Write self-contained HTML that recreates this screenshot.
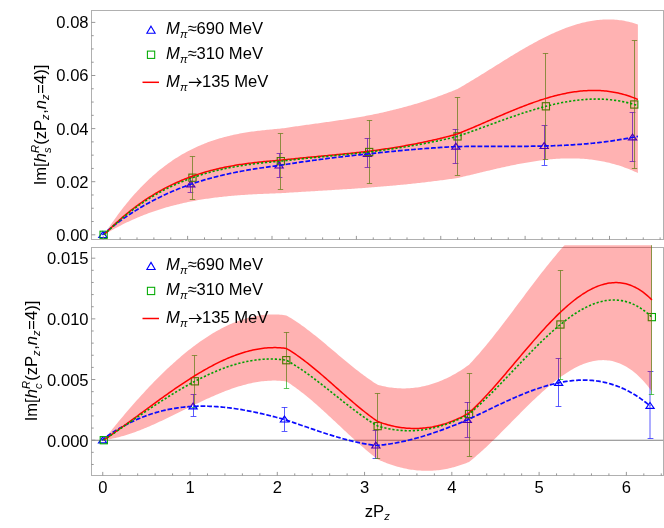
<!DOCTYPE html><html><head><meta charset="utf-8"><style>html,body{margin:0;padding:0;background:#fff}svg{display:block;will-change:transform}</style></head><body><svg width="664" height="528" viewBox="0 0 664 528"><style>.t{font-family:"Liberation Sans",sans-serif;font-size:16.6px;fill:#000}</style><rect width="664" height="528" fill="#fff"/><clipPath id="c1"><rect x="91.50" y="10.50" width="572.00" height="229.00"/></clipPath><clipPath id="c2"><rect x="91.50" y="245.30" width="572.00" height="230.20"/></clipPath><g clip-path="url(#c1)"><path d="M190.50,177.20V192.10M187.60,177.50h5.8M187.60,192.50h5.8" stroke="#3030ff" stroke-width="0.8" fill="none"/><path d="M279.50,153.40V177.40M276.60,153.50h5.8M276.60,177.50h5.8" stroke="#3030ff" stroke-width="0.8" fill="none"/><path d="M367.50,138.30V167.30M364.60,138.50h5.8M364.60,167.50h5.8" stroke="#3030ff" stroke-width="0.8" fill="none"/><path d="M455.50,129.20V163.40M452.60,129.50h5.8M452.60,163.50h5.8" stroke="#3030ff" stroke-width="0.8" fill="none"/><path d="M544.50,125.30V165.00M541.60,125.50h5.8M541.60,165.50h5.8" stroke="#3030ff" stroke-width="0.8" fill="none"/><path d="M632.50,112.30V161.50M629.60,112.50h5.8M629.60,161.50h5.8" stroke="#3030ff" stroke-width="0.8" fill="none"/><path d="M192.50,156.50V199.40M189.80,156.50h5.4M189.80,199.50h5.4" stroke="#28b428" stroke-width="0.75" fill="none"/><path d="M280.50,133.60V189.40M277.80,133.50h5.4M277.80,189.50h5.4" stroke="#28b428" stroke-width="0.75" fill="none"/><path d="M369.50,120.30V183.40M366.80,120.50h5.4M366.80,183.50h5.4" stroke="#28b428" stroke-width="0.75" fill="none"/><path d="M457.50,97.30V175.30M454.80,97.50h5.4M454.80,175.50h5.4" stroke="#28b428" stroke-width="0.75" fill="none"/><path d="M545.50,53.40V159.30M542.80,53.50h5.4M542.80,159.50h5.4" stroke="#28b428" stroke-width="0.75" fill="none"/><path d="M634.50,40.50V168.40M631.80,40.50h5.4M631.80,168.50h5.4" stroke="#28b428" stroke-width="0.75" fill="none"/><path d="M102.90,231.60L107.00,237.50L98.80,237.50Z" stroke="#0000ff" stroke-width="1.15" fill="none"/><path d="M190.76,180.90L194.86,186.80L186.66,186.80Z" stroke="#0000ff" stroke-width="1.15" fill="none"/><path d="M279.12,162.10L283.22,168.00L275.02,168.00Z" stroke="#0000ff" stroke-width="1.15" fill="none"/><path d="M367.48,150.60L371.58,156.50L363.38,156.50Z" stroke="#0000ff" stroke-width="1.15" fill="none"/><path d="M455.84,143.20L459.94,149.10L451.74,149.10Z" stroke="#0000ff" stroke-width="1.15" fill="none"/><path d="M544.20,142.60L548.30,148.50L540.10,148.50Z" stroke="#0000ff" stroke-width="1.15" fill="none"/><path d="M632.56,134.00L636.66,139.90L628.46,139.90Z" stroke="#0000ff" stroke-width="1.15" fill="none"/><rect x="100.00" y="231.20" width="7.20" height="7.20" stroke="#00aa00" stroke-width="1.10" fill="none"/><rect x="188.86" y="174.10" width="7.20" height="7.20" stroke="#00aa00" stroke-width="1.10" fill="none"/><rect x="277.22" y="157.55" width="7.20" height="7.20" stroke="#00aa00" stroke-width="1.10" fill="none"/><rect x="365.58" y="148.40" width="7.20" height="7.20" stroke="#00aa00" stroke-width="1.10" fill="none"/><rect x="453.94" y="132.80" width="7.20" height="7.20" stroke="#00aa00" stroke-width="1.10" fill="none"/><rect x="542.30" y="102.70" width="7.20" height="7.20" stroke="#00aa00" stroke-width="1.10" fill="none"/><rect x="630.66" y="100.90" width="7.20" height="7.20" stroke="#00aa00" stroke-width="1.10" fill="none"/><path d="M104.10,234.80 L105.62,232.44 L107.15,230.11 L108.67,227.81 L110.19,225.56 L111.72,223.34 L113.24,221.15 L114.76,219.00 L116.29,216.89 L117.81,214.81 L119.33,212.76 L120.86,210.75 L122.38,208.77 L123.90,206.83 L125.43,204.91 L126.95,203.03 L128.48,201.19 L130.00,199.37 L131.52,197.59 L133.05,195.84 L134.57,194.12 L136.09,192.43 L137.62,190.77 L139.14,189.14 L140.66,187.54 L142.19,185.97 L143.71,184.43 L145.23,182.92 L146.76,181.44 L148.28,179.99 L149.80,178.56 L151.33,177.17 L152.85,175.80 L154.37,174.45 L155.90,173.14 L157.42,171.85 L158.94,170.59 L160.47,169.35 L161.99,168.14 L163.51,166.96 L165.04,165.80 L166.56,164.66 L168.08,163.56 L169.61,162.47 L171.13,161.41 L172.66,160.37 L174.18,159.36 L175.70,158.36 L177.23,157.40 L178.75,156.45 L180.27,155.53 L181.80,154.62 L183.32,153.74 L184.84,152.89 L186.37,152.05 L187.89,151.23 L189.41,150.43 L190.94,149.66 L192.46,148.90 L193.98,148.16 L195.51,147.44 L197.03,146.75 L198.55,146.06 L200.08,145.40 L201.60,144.76 L203.12,144.13 L204.65,143.52 L206.17,142.93 L207.69,142.35 L209.22,141.79 L210.74,141.25 L212.26,140.73 L213.79,140.21 L215.31,139.72 L216.84,139.24 L218.36,138.77 L219.88,138.32 L221.41,137.88 L222.93,137.46 L224.45,137.05 L225.98,136.65 L227.50,136.26 L229.02,135.89 L230.55,135.53 L232.07,135.19 L233.59,134.85 L235.12,134.53 L236.64,134.21 L238.16,133.91 L239.69,133.62 L241.21,133.34 L242.73,133.06 L244.26,132.80 L245.78,132.55 L247.30,132.30 L248.83,132.07 L250.35,131.84 L251.87,131.62 L253.40,131.41 L254.92,131.21 L256.44,131.01 L257.97,130.82 L259.49,130.64 L261.02,130.46 L262.54,130.29 L264.06,130.13 L265.59,129.97 L267.11,129.81 L268.63,129.66 L270.16,129.52 L271.68,129.38 L273.20,129.24 L274.73,129.10 L276.25,128.97 L277.77,128.85 L279.30,128.72 L280.82,128.60 L282.34,128.37 L283.87,128.14 L285.39,127.91 L286.91,127.69 L288.44,127.46 L289.96,127.24 L291.48,127.02 L293.01,126.80 L294.53,126.58 L296.05,126.37 L297.58,126.15 L299.10,125.94 L300.62,125.72 L302.15,125.51 L303.67,125.30 L305.20,125.09 L306.72,124.87 L308.24,124.66 L309.77,124.45 L311.29,124.24 L312.81,124.03 L314.34,123.82 L315.86,123.61 L317.38,123.40 L318.91,123.18 L320.43,122.97 L321.95,122.76 L323.48,122.55 L325.00,122.33 L326.52,122.12 L328.05,121.90 L329.57,121.68 L331.09,121.46 L332.62,121.24 L334.14,121.02 L335.66,120.80 L337.19,120.57 L338.71,120.35 L340.23,120.12 L341.76,119.89 L343.28,119.66 L344.80,119.42 L346.33,119.19 L347.85,118.95 L349.38,118.71 L350.90,118.46 L352.42,118.22 L353.95,117.97 L355.47,117.72 L356.99,117.46 L358.52,117.20 L360.04,116.94 L361.56,116.68 L363.09,116.41 L364.61,116.14 L366.13,115.86 L367.66,115.58 L369.18,115.30 L370.70,114.99 L372.23,114.68 L373.75,114.36 L375.27,114.05 L376.80,113.72 L378.32,113.39 L379.84,113.06 L381.37,112.72 L382.89,112.38 L384.41,112.04 L385.94,111.69 L387.46,111.33 L388.98,110.97 L390.51,110.61 L392.03,110.24 L393.56,109.87 L395.08,109.49 L396.60,109.10 L398.13,108.71 L399.65,108.32 L401.17,107.92 L402.70,107.52 L404.22,107.11 L405.74,106.69 L407.27,106.27 L408.79,105.84 L410.31,105.41 L411.84,104.97 L413.36,104.53 L414.88,104.08 L416.41,103.63 L417.93,103.17 L419.45,102.70 L420.98,102.23 L422.50,101.75 L424.02,101.26 L425.55,100.77 L427.07,100.27 L428.59,99.77 L430.12,99.26 L431.64,98.74 L433.16,98.22 L434.69,97.69 L436.21,97.15 L437.74,96.61 L439.26,96.06 L440.78,95.50 L442.31,94.94 L443.83,94.37 L445.35,93.79 L446.88,93.20 L448.40,92.61 L449.92,92.01 L451.45,91.40 L452.97,90.79 L454.49,90.17 L456.02,89.54 L457.54,88.90 L459.06,88.03 L460.59,87.16 L462.11,86.28 L463.63,85.39 L465.16,84.49 L466.68,83.59 L468.20,82.69 L469.73,81.78 L471.25,80.86 L472.77,79.94 L474.30,79.01 L475.82,78.08 L477.34,77.15 L478.87,76.21 L480.39,75.28 L481.92,74.33 L483.44,73.39 L484.96,72.44 L486.49,71.49 L488.01,70.54 L489.53,69.59 L491.06,68.64 L492.58,67.69 L494.10,66.74 L495.63,65.79 L497.15,64.83 L498.67,63.88 L500.20,62.93 L501.72,61.99 L503.24,61.04 L504.77,60.10 L506.29,59.16 L507.81,58.22 L509.34,57.29 L510.86,56.36 L512.38,55.43 L513.91,54.51 L515.43,53.59 L516.95,52.68 L518.48,51.77 L520.00,50.87 L521.52,49.97 L523.05,49.08 L524.57,48.19 L526.10,47.32 L527.62,46.45 L529.14,45.59 L530.67,44.73 L532.19,43.89 L533.71,43.05 L535.24,42.22 L536.76,41.40 L538.28,40.59 L539.81,39.79 L541.33,39.00 L542.85,38.22 L544.38,37.46 L545.90,36.70 L547.41,35.96 L548.92,35.24 L550.42,34.52 L551.93,33.82 L553.44,33.13 L554.95,32.45 L556.46,31.79 L557.97,31.14 L559.47,30.50 L560.98,29.88 L562.49,29.28 L564.00,28.68 L565.51,28.11 L567.01,27.54 L568.52,27.00 L570.03,26.47 L571.54,25.95 L573.05,25.46 L574.56,24.98 L576.06,24.52 L577.57,24.07 L579.08,23.65 L580.59,23.24 L582.10,22.85 L583.60,22.48 L585.11,22.13 L586.62,21.80 L588.13,21.48 L589.64,21.19 L591.15,20.92 L592.65,20.67 L594.16,20.45 L595.67,20.24 L597.18,20.05 L598.69,19.89 L600.20,19.75 L601.70,19.64 L603.21,19.54 L604.72,19.47 L606.23,19.42 L607.74,19.40 L609.24,19.40 L610.75,19.43 L612.26,19.48 L613.77,19.56 L615.28,19.66 L616.79,19.79 L618.29,19.95 L619.80,20.13 L621.31,20.34 L622.82,20.58 L624.33,20.84 L625.83,21.14 L627.34,21.46 L628.85,21.81 L630.36,22.18 L631.87,22.59 L633.38,23.03 L634.88,23.50 L636.39,23.99 L637.90,24.52 L637.90,173.08 L636.39,172.37 L634.88,171.68 L633.38,171.01 L631.87,170.36 L630.36,169.73 L628.85,169.12 L627.34,168.53 L625.83,167.96 L624.33,167.40 L622.82,166.87 L621.31,166.35 L619.80,165.85 L618.29,165.37 L616.79,164.91 L615.28,164.47 L613.77,164.04 L612.26,163.63 L610.75,163.24 L609.24,162.86 L607.74,162.50 L606.23,162.16 L604.72,161.83 L603.21,161.52 L601.70,161.23 L600.20,160.95 L598.69,160.69 L597.18,160.44 L595.67,160.21 L594.16,159.99 L592.65,159.79 L591.15,159.60 L589.64,159.43 L588.13,159.27 L586.62,159.12 L585.11,158.99 L583.60,158.87 L582.10,158.77 L580.59,158.68 L579.08,158.60 L577.57,158.53 L576.06,158.48 L574.56,158.44 L573.05,158.41 L571.54,158.40 L570.03,158.39 L568.52,158.40 L567.01,158.42 L565.51,158.45 L564.00,158.49 L562.49,158.55 L560.98,158.61 L559.47,158.68 L557.97,158.77 L556.46,158.86 L554.95,158.97 L553.44,159.08 L551.93,159.21 L550.42,159.34 L548.92,159.49 L547.41,159.64 L545.90,159.80 L544.38,159.97 L542.85,160.15 L541.33,160.34 L539.81,160.54 L538.28,160.74 L536.76,160.96 L535.24,161.18 L533.71,161.40 L532.19,161.64 L530.67,161.88 L529.14,162.13 L527.62,162.39 L526.10,162.65 L524.57,162.92 L523.05,163.19 L521.52,163.48 L520.00,163.76 L518.48,164.05 L516.95,164.35 L515.43,164.65 L513.91,164.96 L512.38,165.27 L510.86,165.59 L509.34,165.91 L507.81,166.24 L506.29,166.57 L504.77,166.90 L503.24,167.24 L501.72,167.58 L500.20,167.92 L498.67,168.26 L497.15,168.61 L495.63,168.96 L494.10,169.32 L492.58,169.67 L491.06,170.03 L489.53,170.39 L488.01,170.75 L486.49,171.11 L484.96,171.48 L483.44,171.84 L481.92,172.21 L480.39,172.57 L478.87,172.94 L477.34,173.31 L475.82,173.67 L474.30,174.04 L472.77,174.40 L471.25,174.77 L469.73,175.13 L468.20,175.50 L466.68,175.86 L465.16,176.22 L463.63,176.58 L462.11,176.94 L460.59,177.30 L459.06,177.65 L457.54,178.00 L456.02,178.23 L454.49,178.45 L452.97,178.67 L451.45,178.89 L449.92,179.10 L448.40,179.31 L446.88,179.52 L445.35,179.73 L443.83,179.94 L442.31,180.14 L440.78,180.34 L439.26,180.54 L437.74,180.74 L436.21,180.93 L434.69,181.12 L433.16,181.31 L431.64,181.50 L430.12,181.68 L428.59,181.87 L427.07,182.05 L425.55,182.23 L424.02,182.40 L422.50,182.58 L420.98,182.75 L419.45,182.92 L417.93,183.09 L416.41,183.26 L414.88,183.42 L413.36,183.59 L411.84,183.75 L410.31,183.91 L408.79,184.07 L407.27,184.22 L405.74,184.38 L404.22,184.53 L402.70,184.68 L401.17,184.83 L399.65,184.97 L398.13,185.12 L396.60,185.26 L395.08,185.41 L393.56,185.55 L392.03,185.69 L390.51,185.82 L388.98,185.96 L387.46,186.09 L385.94,186.23 L384.41,186.36 L382.89,186.49 L381.37,186.62 L379.84,186.74 L378.32,186.87 L376.80,187.00 L375.27,187.12 L373.75,187.24 L372.23,187.36 L370.70,187.48 L369.18,187.60 L367.66,187.71 L366.13,187.82 L364.61,187.93 L363.09,188.04 L361.56,188.15 L360.04,188.26 L358.52,188.36 L356.99,188.47 L355.47,188.57 L353.95,188.67 L352.42,188.77 L350.90,188.88 L349.38,188.98 L347.85,189.08 L346.33,189.17 L344.80,189.27 L343.28,189.37 L341.76,189.47 L340.23,189.56 L338.71,189.66 L337.19,189.75 L335.66,189.85 L334.14,189.94 L332.62,190.04 L331.09,190.13 L329.57,190.22 L328.05,190.32 L326.52,190.41 L325.00,190.50 L323.48,190.59 L321.95,190.68 L320.43,190.77 L318.91,190.87 L317.38,190.96 L315.86,191.05 L314.34,191.14 L312.81,191.23 L311.29,191.32 L309.77,191.41 L308.24,191.50 L306.72,191.60 L305.20,191.69 L303.67,191.78 L302.15,191.87 L300.62,191.96 L299.10,192.06 L297.58,192.15 L296.05,192.24 L294.53,192.34 L293.01,192.43 L291.48,192.52 L289.96,192.62 L288.44,192.71 L286.91,192.81 L285.39,192.91 L283.87,193.00 L282.34,193.10 L280.82,193.20 L279.30,193.25 L277.77,193.30 L276.25,193.36 L274.73,193.41 L273.20,193.46 L271.68,193.52 L270.16,193.58 L268.63,193.64 L267.11,193.70 L265.59,193.76 L264.06,193.83 L262.54,193.89 L261.02,193.96 L259.49,194.03 L257.97,194.11 L256.44,194.18 L254.92,194.26 L253.40,194.34 L251.87,194.43 L250.35,194.51 L248.83,194.60 L247.30,194.70 L245.78,194.79 L244.26,194.89 L242.73,195.00 L241.21,195.10 L239.69,195.22 L238.16,195.33 L236.64,195.45 L235.12,195.57 L233.59,195.70 L232.07,195.83 L230.55,195.97 L229.02,196.11 L227.50,196.26 L225.98,196.41 L224.45,196.56 L222.93,196.72 L221.41,196.89 L219.88,197.06 L218.36,197.24 L216.84,197.42 L215.31,197.61 L213.79,197.80 L212.26,198.00 L210.74,198.21 L209.22,198.42 L207.69,198.64 L206.17,198.87 L204.65,199.10 L203.12,199.34 L201.60,199.58 L200.08,199.83 L198.55,200.09 L197.03,200.36 L195.51,200.63 L193.98,200.91 L192.46,201.20 L190.94,201.50 L189.41,201.80 L187.89,202.11 L186.37,202.43 L184.84,202.76 L183.32,203.09 L181.80,203.44 L180.27,203.79 L178.75,204.15 L177.23,204.52 L175.70,204.90 L174.18,205.29 L172.66,205.68 L171.13,206.09 L169.61,206.50 L168.08,206.93 L166.56,207.36 L165.04,207.80 L163.51,208.26 L161.99,208.72 L160.47,209.19 L158.94,209.68 L157.42,210.17 L155.90,210.67 L154.37,211.19 L152.85,211.71 L151.33,212.25 L149.80,212.79 L148.28,213.35 L146.76,213.92 L145.23,214.50 L143.71,215.09 L142.19,215.69 L140.66,216.30 L139.14,216.93 L137.62,217.57 L136.09,218.22 L134.57,218.88 L133.05,219.55 L131.52,220.23 L130.00,220.93 L128.48,221.64 L126.95,222.37 L125.43,223.10 L123.90,223.85 L122.38,224.61 L120.86,225.38 L119.33,226.17 L117.81,226.97 L116.29,227.79 L114.76,228.62 L113.24,229.46 L111.72,230.31 L110.19,231.18 L108.67,232.06 L107.15,232.96 L105.62,233.87 L104.10,234.80Z" fill="#ff0000" fill-opacity="0.3" stroke="none"/><path d="M102.40,234.80 L103.92,233.52 L105.45,232.26 L106.97,231.02 L108.49,229.80 L110.02,228.58 L111.54,227.39 L113.06,226.21 L114.59,225.05 L116.11,223.90 L117.63,222.77 L119.16,221.66 L120.68,220.55 L122.20,219.47 L123.73,218.40 L125.25,217.34 L126.78,216.30 L128.30,215.28 L129.82,214.26 L131.35,213.27 L132.87,212.28 L134.39,211.32 L135.92,210.36 L137.44,209.42 L138.96,208.49 L140.49,207.58 L142.01,206.68 L143.53,205.80 L145.06,204.92 L146.58,204.06 L148.10,203.22 L149.63,202.38 L151.15,201.56 L152.67,200.75 L154.20,199.96 L155.72,199.17 L157.24,198.40 L158.77,197.64 L160.29,196.90 L161.81,196.16 L163.34,195.44 L164.86,194.73 L166.38,194.03 L167.91,193.34 L169.43,192.66 L170.96,192.00 L172.48,191.34 L174.00,190.70 L175.53,190.06 L177.05,189.44 L178.57,188.83 L180.10,188.23 L181.62,187.64 L183.14,187.06 L184.67,186.49 L186.19,185.92 L187.71,185.37 L189.24,184.83 L190.76,184.30 L192.28,183.78 L193.81,183.26 L195.33,182.76 L196.85,182.26 L198.38,181.78 L199.90,181.30 L201.42,180.83 L202.95,180.37 L204.47,179.92 L205.99,179.48 L207.52,179.04 L209.04,178.61 L210.56,178.20 L212.09,177.78 L213.61,177.38 L215.14,176.98 L216.66,176.60 L218.18,176.21 L219.71,175.84 L221.23,175.47 L222.75,175.11 L224.28,174.76 L225.80,174.41 L227.32,174.07 L228.85,173.74 L230.37,173.41 L231.89,173.09 L233.42,172.77 L234.94,172.46 L236.46,172.16 L237.99,171.86 L239.51,171.57 L241.03,171.28 L242.56,171.00 L244.08,170.72 L245.60,170.45 L247.13,170.18 L248.65,169.92 L250.17,169.67 L251.70,169.41 L253.22,169.16 L254.74,168.92 L256.27,168.68 L257.79,168.45 L259.32,168.21 L260.84,167.99 L262.36,167.76 L263.89,167.54 L265.41,167.32 L266.93,167.11 L268.46,166.90 L269.98,166.69 L271.50,166.49 L273.03,166.28 L274.55,166.08 L276.07,165.89 L277.60,165.69 L279.12,165.50 L280.64,165.25 L282.17,165.00 L283.69,164.75 L285.21,164.51 L286.74,164.27 L288.26,164.03 L289.78,163.79 L291.31,163.55 L292.83,163.32 L294.35,163.09 L295.88,162.86 L297.40,162.63 L298.92,162.40 L300.45,162.18 L301.97,161.95 L303.50,161.73 L305.02,161.52 L306.54,161.30 L308.07,161.08 L309.59,160.87 L311.11,160.66 L312.64,160.45 L314.16,160.24 L315.68,160.04 L317.21,159.84 L318.73,159.63 L320.25,159.43 L321.78,159.23 L323.30,159.04 L324.82,158.84 L326.35,158.65 L327.87,158.46 L329.39,158.27 L330.92,158.08 L332.44,157.89 L333.96,157.71 L335.49,157.52 L337.01,157.34 L338.53,157.16 L340.06,156.98 L341.58,156.80 L343.10,156.63 L344.63,156.45 L346.15,156.28 L347.68,156.11 L349.20,155.94 L350.72,155.77 L352.25,155.60 L353.77,155.43 L355.29,155.27 L356.82,155.11 L358.34,154.94 L359.86,154.78 L361.39,154.62 L362.91,154.47 L364.43,154.31 L365.96,154.15 L367.48,154.00 L369.00,153.83 L370.53,153.66 L372.05,153.49 L373.57,153.33 L375.10,153.16 L376.62,153.00 L378.14,152.84 L379.67,152.67 L381.19,152.51 L382.71,152.36 L384.24,152.20 L385.76,152.04 L387.28,151.89 L388.81,151.74 L390.33,151.58 L391.86,151.43 L393.38,151.29 L394.90,151.14 L396.43,150.99 L397.95,150.85 L399.47,150.71 L401.00,150.56 L402.52,150.42 L404.04,150.29 L405.57,150.15 L407.09,150.01 L408.61,149.88 L410.14,149.75 L411.66,149.62 L413.18,149.49 L414.71,149.36 L416.23,149.24 L417.75,149.11 L419.28,148.99 L420.80,148.87 L422.32,148.75 L423.85,148.64 L425.37,148.52 L426.89,148.41 L428.42,148.30 L429.94,148.19 L431.46,148.08 L432.99,147.97 L434.51,147.87 L436.04,147.76 L437.56,147.66 L439.08,147.56 L440.61,147.47 L442.13,147.37 L443.65,147.28 L445.18,147.19 L446.70,147.10 L448.22,147.01 L449.75,146.92 L451.27,146.84 L452.79,146.76 L454.32,146.68 L455.84,146.60 L457.36,146.57 L458.89,146.55 L460.41,146.53 L461.93,146.51 L463.46,146.49 L464.98,146.48 L466.50,146.46 L468.03,146.45 L469.55,146.43 L471.07,146.42 L472.60,146.41 L474.12,146.41 L475.64,146.40 L477.17,146.39 L478.69,146.39 L480.22,146.38 L481.74,146.38 L483.26,146.38 L484.79,146.38 L486.31,146.37 L487.83,146.37 L489.36,146.37 L490.88,146.37 L492.40,146.37 L493.93,146.37 L495.45,146.37 L496.97,146.37 L498.50,146.37 L500.02,146.37 L501.54,146.38 L503.07,146.38 L504.59,146.37 L506.11,146.37 L507.64,146.37 L509.16,146.37 L510.68,146.37 L512.21,146.37 L513.73,146.36 L515.25,146.36 L516.78,146.35 L518.30,146.34 L519.82,146.34 L521.35,146.33 L522.87,146.32 L524.40,146.30 L525.92,146.29 L527.44,146.28 L528.97,146.26 L530.49,146.24 L532.01,146.22 L533.54,146.20 L535.06,146.18 L536.58,146.16 L538.11,146.13 L539.63,146.10 L541.15,146.07 L542.68,146.04 L544.20,146.00 L545.71,145.96 L547.22,145.92 L548.73,145.88 L550.25,145.83 L551.76,145.79 L553.27,145.74 L554.78,145.68 L556.29,145.63 L557.80,145.57 L559.31,145.51 L560.82,145.44 L562.34,145.37 L563.85,145.30 L565.36,145.23 L566.87,145.15 L568.38,145.07 L569.89,144.98 L571.40,144.89 L572.91,144.80 L574.43,144.70 L575.94,144.60 L577.45,144.50 L578.96,144.39 L580.47,144.28 L581.98,144.16 L583.49,144.04 L585.00,143.92 L586.52,143.79 L588.03,143.66 L589.54,143.52 L591.05,143.38 L592.56,143.23 L594.07,143.08 L595.58,142.92 L597.10,142.76 L598.61,142.59 L600.12,142.42 L601.63,142.25 L603.14,142.07 L604.65,141.88 L606.16,141.69 L607.67,141.49 L609.19,141.29 L610.70,141.08 L612.21,140.86 L613.72,140.64 L615.23,140.42 L616.74,140.19 L618.25,139.95 L619.76,139.71 L621.28,139.46 L622.79,139.20 L624.30,138.94 L625.81,138.67 L627.32,138.40 L628.83,138.12 L630.34,137.83 L631.85,137.54 L633.37,137.24 L634.88,136.93 L636.39,136.62 L637.90,136.30" stroke="#0a0aff" stroke-width="1.7" fill="none" stroke-dasharray="4.8,1.85"/><path d="M104.10,234.80 L105.62,233.23 L107.15,231.68 L108.67,230.16 L110.19,228.66 L111.72,227.18 L113.24,225.72 L114.76,224.28 L116.29,222.87 L117.81,221.48 L119.33,220.11 L120.86,218.76 L122.38,217.43 L123.90,216.13 L125.43,214.84 L126.95,213.58 L128.48,212.34 L130.00,211.11 L131.52,209.91 L133.05,208.73 L134.57,207.56 L136.09,206.42 L137.62,205.29 L139.14,204.19 L140.66,203.10 L142.19,202.03 L143.71,200.99 L145.23,199.96 L146.76,198.94 L148.28,197.95 L149.80,196.97 L151.33,196.02 L152.85,195.08 L154.37,194.15 L155.90,193.25 L157.42,192.36 L158.94,191.49 L160.47,190.63 L161.99,189.79 L163.51,188.97 L165.04,188.16 L166.56,187.37 L168.08,186.60 L169.61,185.84 L171.13,185.10 L172.66,184.37 L174.18,183.65 L175.70,182.96 L177.23,182.27 L178.75,181.60 L180.27,180.95 L181.80,180.31 L183.32,179.68 L184.84,179.07 L186.37,178.47 L187.89,177.88 L189.41,177.31 L190.94,176.75 L192.46,176.20 L193.98,175.67 L195.51,175.14 L197.03,174.63 L198.55,174.14 L200.08,173.65 L201.60,173.18 L203.12,172.71 L204.65,172.26 L206.17,171.82 L207.69,171.39 L209.22,170.98 L210.74,170.57 L212.26,170.17 L213.79,169.79 L215.31,169.41 L216.84,169.04 L218.36,168.69 L219.88,168.34 L221.41,168.00 L222.93,167.67 L224.45,167.35 L225.98,167.04 L227.50,166.74 L229.02,166.45 L230.55,166.16 L232.07,165.88 L233.59,165.62 L235.12,165.35 L236.64,165.10 L238.16,164.85 L239.69,164.61 L241.21,164.38 L242.73,164.16 L244.26,163.94 L245.78,163.72 L247.30,163.52 L248.83,163.32 L250.35,163.12 L251.87,162.94 L253.40,162.75 L254.92,162.57 L256.44,162.40 L257.97,162.24 L259.49,162.07 L261.02,161.91 L262.54,161.76 L264.06,161.61 L265.59,161.47 L267.11,161.33 L268.63,161.19 L270.16,161.05 L271.68,160.92 L273.20,160.80 L274.73,160.67 L276.25,160.55 L277.77,160.43 L279.30,160.31 L280.82,160.20 L282.34,160.03 L283.87,159.86 L285.39,159.69 L286.91,159.53 L288.44,159.37 L289.96,159.21 L291.48,159.05 L293.01,158.89 L294.53,158.73 L296.05,158.58 L297.58,158.42 L299.10,158.27 L300.62,158.12 L302.15,157.97 L303.67,157.82 L305.20,157.67 L306.72,157.52 L308.24,157.37 L309.77,157.23 L311.29,157.08 L312.81,156.94 L314.34,156.79 L315.86,156.65 L317.38,156.50 L318.91,156.36 L320.43,156.21 L321.95,156.07 L323.48,155.93 L325.00,155.78 L326.52,155.64 L328.05,155.49 L329.57,155.35 L331.09,155.20 L332.62,155.06 L334.14,154.91 L335.66,154.76 L337.19,154.61 L338.71,154.47 L340.23,154.32 L341.76,154.17 L343.28,154.01 L344.80,153.86 L346.33,153.71 L347.85,153.55 L349.38,153.40 L350.90,153.24 L352.42,153.08 L353.95,152.92 L355.47,152.75 L356.99,152.59 L358.52,152.42 L360.04,152.25 L361.56,152.08 L363.09,151.91 L364.61,151.74 L366.13,151.56 L367.66,151.38 L369.18,151.20 L370.70,151.00 L372.23,150.80 L373.75,150.59 L375.27,150.39 L376.80,150.18 L378.32,149.96 L379.84,149.75 L381.37,149.53 L382.89,149.31 L384.41,149.09 L385.94,148.86 L387.46,148.63 L388.98,148.40 L390.51,148.16 L392.03,147.92 L393.56,147.68 L395.08,147.43 L396.60,147.18 L398.13,146.93 L399.65,146.67 L401.17,146.41 L402.70,146.15 L404.22,145.88 L405.74,145.61 L407.27,145.34 L408.79,145.06 L410.31,144.78 L411.84,144.50 L413.36,144.21 L414.88,143.91 L416.41,143.62 L417.93,143.31 L419.45,143.01 L420.98,142.70 L422.50,142.39 L424.02,142.07 L425.55,141.75 L427.07,141.42 L428.59,141.09 L430.12,140.75 L431.64,140.41 L433.16,140.07 L434.69,139.72 L436.21,139.37 L437.74,139.01 L439.26,138.65 L440.78,138.28 L442.31,137.91 L443.83,137.53 L445.35,137.14 L446.88,136.76 L448.40,136.36 L449.92,135.97 L451.45,135.56 L452.97,135.16 L454.49,134.74 L456.02,134.32 L457.54,133.90 L459.06,133.29 L460.59,132.67 L462.11,132.05 L463.63,131.43 L465.16,130.80 L466.68,130.16 L468.20,129.52 L469.73,128.88 L471.25,128.24 L472.77,127.59 L474.30,126.94 L475.82,126.29 L477.34,125.63 L478.87,124.98 L480.39,124.32 L481.92,123.66 L483.44,123.00 L484.96,122.34 L486.49,121.68 L488.01,121.02 L489.53,120.35 L491.06,119.69 L492.58,119.03 L494.10,118.37 L495.63,117.71 L497.15,117.05 L498.67,116.40 L500.20,115.75 L501.72,115.09 L503.24,114.44 L504.77,113.80 L506.29,113.16 L507.81,112.52 L509.34,111.88 L510.86,111.25 L512.38,110.62 L513.91,109.99 L515.43,109.38 L516.95,108.76 L518.48,108.15 L520.00,107.55 L521.52,106.95 L523.05,106.36 L524.57,105.77 L526.10,105.20 L527.62,104.62 L529.14,104.06 L530.67,103.50 L532.19,102.95 L533.71,102.41 L535.24,101.88 L536.76,101.35 L538.28,100.84 L539.81,100.33 L541.33,99.83 L542.85,99.35 L544.38,98.87 L545.90,98.40 L547.41,97.95 L548.92,97.50 L550.42,97.07 L551.93,96.65 L553.44,96.24 L554.95,95.85 L556.46,95.46 L557.97,95.09 L559.47,94.72 L560.98,94.38 L562.49,94.04 L564.00,93.72 L565.51,93.41 L567.01,93.11 L568.52,92.83 L570.03,92.56 L571.54,92.31 L573.05,92.07 L574.56,91.85 L576.06,91.64 L577.57,91.45 L579.08,91.27 L580.59,91.11 L582.10,90.96 L583.60,90.84 L585.11,90.72 L586.62,90.63 L588.13,90.55 L589.64,90.50 L591.15,90.45 L592.65,90.43 L594.16,90.43 L595.67,90.44 L597.18,90.47 L598.69,90.53 L600.20,90.60 L601.70,90.69 L603.21,90.80 L604.72,90.93 L606.23,91.09 L607.74,91.26 L609.24,91.46 L610.75,91.67 L612.26,91.91 L613.77,92.17 L615.28,92.45 L616.79,92.75 L618.29,93.08 L619.80,93.43 L621.31,93.80 L622.82,94.20 L624.33,94.62 L625.83,95.06 L627.34,95.53 L628.85,96.03 L630.36,96.54 L631.87,97.09 L633.38,97.65 L634.88,98.25 L636.39,98.87 L637.90,99.51" stroke="#ff0000" stroke-width="1.5" fill="none"/><path d="M104.10,234.80 L105.62,233.29 L107.15,231.79 L108.67,230.32 L110.19,228.88 L111.72,227.45 L113.24,226.04 L114.76,224.66 L116.29,223.29 L117.81,221.95 L119.33,220.62 L120.86,219.32 L122.38,218.03 L123.90,216.77 L125.43,215.53 L126.95,214.30 L128.48,213.10 L130.00,211.91 L131.52,210.74 L133.05,209.59 L134.57,208.46 L136.09,207.35 L137.62,206.26 L139.14,205.19 L140.66,204.13 L142.19,203.09 L143.71,202.07 L145.23,201.06 L146.76,200.08 L148.28,199.11 L149.80,198.16 L151.33,197.22 L152.85,196.30 L154.37,195.40 L155.90,194.51 L157.42,193.64 L158.94,192.79 L160.47,191.95 L161.99,191.13 L163.51,190.32 L165.04,189.53 L166.56,188.76 L168.08,187.99 L169.61,187.25 L171.13,186.51 L172.66,185.80 L174.18,185.09 L175.70,184.40 L177.23,183.73 L178.75,183.07 L180.27,182.42 L181.80,181.78 L183.32,181.16 L184.84,180.55 L186.37,179.96 L187.89,179.37 L189.41,178.80 L190.94,178.25 L192.46,177.70 L193.98,177.17 L195.51,176.64 L197.03,176.13 L198.55,175.64 L200.08,175.15 L201.60,174.67 L203.12,174.21 L204.65,173.75 L206.17,173.31 L207.69,172.88 L209.22,172.46 L210.74,172.04 L212.26,171.64 L213.79,171.25 L215.31,170.87 L216.84,170.49 L218.36,170.13 L219.88,169.77 L221.41,169.43 L222.93,169.09 L224.45,168.76 L225.98,168.44 L227.50,168.13 L229.02,167.83 L230.55,167.53 L232.07,167.25 L233.59,166.97 L235.12,166.69 L236.64,166.43 L238.16,166.17 L239.69,165.92 L241.21,165.67 L242.73,165.44 L244.26,165.21 L245.78,164.98 L247.30,164.76 L248.83,164.55 L250.35,164.34 L251.87,164.14 L253.40,163.94 L254.92,163.75 L256.44,163.57 L257.97,163.39 L259.49,163.21 L261.02,163.04 L262.54,162.87 L264.06,162.71 L265.59,162.55 L267.11,162.40 L268.63,162.25 L270.16,162.10 L271.68,161.95 L273.20,161.81 L274.73,161.67 L276.25,161.54 L277.77,161.41 L279.30,161.28 L280.82,161.15 L282.34,160.97 L283.87,160.79 L285.39,160.61 L286.91,160.44 L288.44,160.27 L289.96,160.10 L291.48,159.93 L293.01,159.76 L294.53,159.59 L296.05,159.43 L297.58,159.27 L299.10,159.11 L300.62,158.95 L302.15,158.79 L303.67,158.63 L305.20,158.48 L306.72,158.32 L308.24,158.17 L309.77,158.01 L311.29,157.86 L312.81,157.71 L314.34,157.56 L315.86,157.41 L317.38,157.26 L318.91,157.11 L320.43,156.96 L321.95,156.81 L323.48,156.66 L325.00,156.52 L326.52,156.37 L328.05,156.22 L329.57,156.07 L331.09,155.92 L332.62,155.78 L334.14,155.63 L335.66,155.48 L337.19,155.33 L338.71,155.18 L340.23,155.03 L341.76,154.88 L343.28,154.73 L344.80,154.58 L346.33,154.43 L347.85,154.27 L349.38,154.12 L350.90,153.97 L352.42,153.81 L353.95,153.65 L355.47,153.49 L356.99,153.33 L358.52,153.17 L360.04,153.01 L361.56,152.85 L363.09,152.68 L364.61,152.51 L366.13,152.34 L367.66,152.17 L369.18,152.00 L370.70,151.81 L372.23,151.62 L373.75,151.42 L375.27,151.22 L376.80,151.02 L378.32,150.82 L379.84,150.62 L381.37,150.41 L382.89,150.21 L384.41,149.99 L385.94,149.78 L387.46,149.57 L388.98,149.35 L390.51,149.13 L392.03,148.91 L393.56,148.68 L395.08,148.46 L396.60,148.23 L398.13,147.99 L399.65,147.76 L401.17,147.52 L402.70,147.28 L404.22,147.03 L405.74,146.79 L407.27,146.54 L408.79,146.29 L410.31,146.03 L411.84,145.77 L413.36,145.51 L414.88,145.24 L416.41,144.98 L417.93,144.71 L419.45,144.43 L420.98,144.15 L422.50,143.87 L424.02,143.59 L425.55,143.30 L427.07,143.01 L428.59,142.71 L430.12,142.42 L431.64,142.12 L433.16,141.81 L434.69,141.50 L436.21,141.19 L437.74,140.87 L439.26,140.55 L440.78,140.23 L442.31,139.90 L443.83,139.57 L445.35,139.23 L446.88,138.89 L448.40,138.55 L449.92,138.20 L451.45,137.85 L452.97,137.49 L454.49,137.13 L456.02,136.77 L457.54,136.40 L459.06,135.88 L460.59,135.36 L462.11,134.83 L463.63,134.30 L465.16,133.77 L466.68,133.23 L468.20,132.69 L469.73,132.15 L471.25,131.60 L472.77,131.05 L474.30,130.50 L475.82,129.95 L477.34,129.40 L478.87,128.84 L480.39,128.28 L481.92,127.73 L483.44,127.17 L484.96,126.61 L486.49,126.05 L488.01,125.49 L489.53,124.93 L491.06,124.37 L492.58,123.81 L494.10,123.26 L495.63,122.70 L497.15,122.14 L498.67,121.59 L500.20,121.04 L501.72,120.49 L503.24,119.94 L504.77,119.39 L506.29,118.85 L507.81,118.31 L509.34,117.77 L510.86,117.23 L512.38,116.70 L513.91,116.17 L515.43,115.65 L516.95,115.13 L518.48,114.61 L520.00,114.10 L521.52,113.59 L523.05,113.09 L524.57,112.60 L526.10,112.10 L527.62,111.62 L529.14,111.14 L530.67,110.66 L532.19,110.20 L533.71,109.73 L535.24,109.28 L536.76,108.83 L538.28,108.39 L539.81,107.96 L541.33,107.53 L542.85,107.11 L544.38,106.70 L545.90,106.30 L547.41,105.91 L548.92,105.53 L550.42,105.16 L551.93,104.79 L553.44,104.44 L554.95,104.09 L556.46,103.76 L557.97,103.43 L559.47,103.11 L560.98,102.81 L562.49,102.51 L564.00,102.23 L565.51,101.95 L567.01,101.69 L568.52,101.44 L570.03,101.20 L571.54,100.97 L573.05,100.75 L574.56,100.55 L576.06,100.35 L577.57,100.17 L579.08,100.00 L580.59,99.85 L582.10,99.71 L583.60,99.58 L585.11,99.47 L586.62,99.37 L588.13,99.28 L589.64,99.21 L591.15,99.15 L592.65,99.10 L594.16,99.08 L595.67,99.06 L597.18,99.06 L598.69,99.08 L600.20,99.11 L601.70,99.16 L603.21,99.23 L604.72,99.31 L606.23,99.41 L607.74,99.52 L609.24,99.65 L610.75,99.80 L612.26,99.97 L613.77,100.15 L615.28,100.35 L616.79,100.57 L618.29,100.81 L619.80,101.07 L621.31,101.34 L622.82,101.63 L624.33,101.95 L625.83,102.28 L627.34,102.63 L628.85,103.00 L630.36,103.39 L631.87,103.81 L633.38,104.24 L634.88,104.69 L636.39,105.16 L637.90,105.66" stroke="#00a000" stroke-width="1.6" fill="none" stroke-dasharray="2.2,1.9"/></g><rect x="91.50" y="10.50" width="572.00" height="229.00" fill="none" stroke="#b0b0b0" stroke-width="1"/><path d="M103.25,239.50v-3.60M120.12,239.50v-2.10M137.00,239.50v-2.10M153.88,239.50v-2.10M170.75,239.50v-2.10M187.62,239.50v-3.60M204.50,239.50v-2.10M221.38,239.50v-2.10M238.25,239.50v-2.10M255.12,239.50v-2.10M272.00,239.50v-3.60M288.88,239.50v-2.10M305.75,239.50v-2.10M322.62,239.50v-2.10M339.50,239.50v-2.10M356.38,239.50v-3.60M373.25,239.50v-2.10M390.12,239.50v-2.10M407.00,239.50v-2.10M423.88,239.50v-2.10M440.75,239.50v-3.60M457.62,239.50v-2.10M474.50,239.50v-2.10M491.38,239.50v-2.10M508.25,239.50v-2.10M525.12,239.50v-3.60M542.00,239.50v-2.10M558.88,239.50v-2.10M575.75,239.50v-2.10M592.62,239.50v-2.10M609.50,239.50v-3.60M626.38,239.50v-2.10M643.25,239.50v-2.10M660.12,239.50v-2.10" stroke="#858585" stroke-width="0.85" fill="none"/><path d="M91.50,234.80h3.80M91.50,221.53h2.20M91.50,208.25h2.20M91.50,194.98h2.20M91.50,181.70h3.80M91.50,168.43h2.20M91.50,155.15h2.20M91.50,141.88h2.20M91.50,128.60h3.80M91.50,115.33h2.20M91.50,102.05h2.20M91.50,88.78h2.20M91.50,75.50h3.80M91.50,62.22h2.20M91.50,48.95h2.20M91.50,35.68h2.20M91.50,22.40h3.80" stroke="#858585" stroke-width="0.85" fill="none"/><rect x="91.50" y="247.50" width="572.00" height="228.00" fill="none" stroke="#b0b0b0" stroke-width="1"/><g clip-path="url(#c2)"><path d="M91.50,440.26H663.50" stroke="#828282" stroke-width="1.0"/><path d="M193.50,394.25V416.25M190.60,394.50h5.8M190.60,416.50h5.8" stroke="#3030ff" stroke-width="0.8" fill="none"/><path d="M284.50,407.20V431.00M281.60,407.50h5.8M281.60,431.50h5.8" stroke="#3030ff" stroke-width="0.8" fill="none"/><path d="M375.50,430.25V458.30M372.60,430.50h5.8M372.60,458.50h5.8" stroke="#3030ff" stroke-width="0.8" fill="none"/><path d="M467.50,402.10V437.20M464.60,402.50h5.8M464.60,437.50h5.8" stroke="#3030ff" stroke-width="0.8" fill="none"/><path d="M558.50,358.40V406.40M555.60,358.50h5.8M555.60,406.50h5.8" stroke="#3030ff" stroke-width="0.8" fill="none"/><path d="M650.00,371.50V438.50M647.60,371.50h5.8M647.60,438.50h5.8" stroke="#3030ff" stroke-width="0.8" fill="none"/><path d="M194.50,355.50V407.00M191.80,355.50h5.4M191.80,407.50h5.4" stroke="#28b428" stroke-width="0.75" fill="none"/><path d="M286.50,332.40V388.50M283.80,332.50h5.4M283.80,388.50h5.4" stroke="#28b428" stroke-width="0.75" fill="none"/><path d="M377.50,393.40V458.20M374.80,393.50h5.4M374.80,458.50h5.4" stroke="#28b428" stroke-width="0.75" fill="none"/><path d="M469.50,373.40V456.30M466.80,373.50h5.4M466.80,456.50h5.4" stroke="#28b428" stroke-width="0.75" fill="none"/><path d="M560.50,270.40V379.70M557.80,270.50h5.4M557.80,379.50h5.4" stroke="#28b428" stroke-width="0.75" fill="none"/><path d="M651.50,240.00V394.80M648.80,240.50h5.4M648.80,394.50h5.4" stroke="#28b428" stroke-width="0.75" fill="none"/><path d="M102.60,437.00L106.70,442.90L98.50,442.90Z" stroke="#0000ff" stroke-width="1.15" fill="none"/><path d="M193.09,403.00L197.19,408.90L188.99,408.90Z" stroke="#0000ff" stroke-width="1.15" fill="none"/><path d="M284.48,416.10L288.58,422.00L280.38,422.00Z" stroke="#0000ff" stroke-width="1.15" fill="none"/><path d="M375.87,442.10L379.97,448.00L371.77,448.00Z" stroke="#0000ff" stroke-width="1.15" fill="none"/><path d="M467.26,416.60L471.36,422.50L463.16,422.50Z" stroke="#0000ff" stroke-width="1.15" fill="none"/><path d="M558.65,379.40L562.75,385.30L554.55,385.30Z" stroke="#0000ff" stroke-width="1.15" fill="none"/><path d="M650.04,402.50L654.14,408.40L645.94,408.40Z" stroke="#0000ff" stroke-width="1.15" fill="none"/><rect x="100.20" y="436.60" width="7.20" height="7.20" stroke="#00aa00" stroke-width="1.10" fill="none"/><rect x="191.29" y="377.70" width="7.20" height="7.20" stroke="#00aa00" stroke-width="1.10" fill="none"/><rect x="282.68" y="356.60" width="7.20" height="7.20" stroke="#00aa00" stroke-width="1.10" fill="none"/><rect x="374.07" y="422.50" width="7.20" height="7.20" stroke="#00aa00" stroke-width="1.10" fill="none"/><rect x="465.46" y="410.40" width="7.20" height="7.20" stroke="#00aa00" stroke-width="1.10" fill="none"/><rect x="556.85" y="320.90" width="7.20" height="7.20" stroke="#00aa00" stroke-width="1.10" fill="none"/><rect x="648.24" y="313.50" width="7.20" height="7.20" stroke="#00aa00" stroke-width="1.10" fill="none"/><path d="M103.50,440.20 L105.02,438.28 L106.55,436.36 L108.07,434.46 L109.59,432.56 L111.12,430.67 L112.64,428.79 L114.16,426.92 L115.69,425.06 L117.21,423.21 L118.73,421.37 L120.25,419.54 L121.78,417.72 L123.30,415.91 L124.82,414.11 L126.35,412.32 L127.87,410.54 L129.39,408.77 L130.92,407.01 L132.44,405.27 L133.96,403.54 L135.49,401.81 L137.01,400.10 L138.53,398.40 L140.06,396.72 L141.58,395.04 L143.10,393.38 L144.63,391.73 L146.15,390.10 L147.67,388.47 L149.19,386.86 L150.72,385.27 L152.24,383.68 L153.76,382.11 L155.29,380.55 L156.81,379.01 L158.33,377.48 L159.86,375.97 L161.38,374.47 L162.90,372.98 L164.43,371.51 L165.95,370.05 L167.47,368.61 L169.00,367.18 L170.52,365.77 L172.04,364.38 L173.57,363.00 L175.09,361.63 L176.61,360.28 L178.14,358.95 L179.66,357.63 L181.18,356.33 L182.70,355.05 L184.23,353.78 L185.75,352.53 L187.27,351.30 L188.80,350.09 L190.32,348.89 L191.84,347.71 L193.37,346.55 L194.89,345.40 L196.41,344.27 L197.94,343.16 L199.46,342.07 L200.98,341.00 L202.51,339.95 L204.03,338.91 L205.55,337.90 L207.08,336.90 L208.60,335.92 L210.12,334.97 L211.64,334.03 L213.17,333.11 L214.69,332.21 L216.21,331.33 L217.74,330.47 L219.26,329.64 L220.78,328.82 L222.31,328.02 L223.83,327.25 L225.35,326.49 L226.88,325.76 L228.40,325.05 L229.92,324.36 L231.45,323.69 L232.97,323.04 L234.49,322.41 L236.02,321.81 L237.54,321.23 L239.06,320.67 L240.58,320.14 L242.11,319.62 L243.63,319.14 L245.15,318.67 L246.68,318.23 L248.20,317.81 L249.72,317.41 L251.25,317.04 L252.77,316.69 L254.29,316.36 L255.82,316.06 L257.34,315.79 L258.86,315.54 L260.39,315.31 L261.91,315.11 L263.43,314.93 L264.96,314.78 L266.48,314.66 L268.00,314.56 L269.53,314.48 L271.05,314.43 L272.57,314.41 L274.09,314.41 L275.62,314.44 L277.14,314.50 L278.66,314.58 L280.19,314.69 L281.71,314.83 L283.23,314.99 L284.76,315.18 L286.28,315.40 L287.80,316.27 L289.33,317.16 L290.85,318.08 L292.37,319.02 L293.90,319.99 L295.42,320.98 L296.94,322.00 L298.47,323.03 L299.99,324.09 L301.51,325.17 L303.03,326.26 L304.56,327.37 L306.08,328.50 L307.60,329.65 L309.13,330.81 L310.65,331.99 L312.17,333.18 L313.70,334.38 L315.22,335.59 L316.74,336.82 L318.27,338.05 L319.79,339.30 L321.31,340.55 L322.84,341.81 L324.36,343.08 L325.88,344.35 L327.41,345.63 L328.93,346.91 L330.45,348.19 L331.98,349.48 L333.50,350.77 L335.02,352.06 L336.54,353.35 L338.07,354.63 L339.59,355.92 L341.11,357.20 L342.64,358.48 L344.16,359.75 L345.68,361.02 L347.21,362.28 L348.73,363.54 L350.25,364.78 L351.78,366.02 L353.30,367.25 L354.82,368.46 L356.35,369.67 L357.87,370.86 L359.39,372.04 L360.92,373.20 L362.44,374.35 L363.96,375.48 L365.48,376.59 L367.01,377.69 L368.53,378.77 L370.05,379.83 L371.58,380.87 L373.10,381.89 L374.62,382.88 L376.15,383.85 L377.67,384.80 L379.19,385.21 L380.72,385.60 L382.24,385.96 L383.76,386.30 L385.29,386.62 L386.81,386.90 L388.33,387.17 L389.86,387.41 L391.38,387.62 L392.90,387.81 L394.42,387.97 L395.95,388.11 L397.47,388.22 L398.99,388.31 L400.52,388.37 L402.04,388.41 L403.56,388.42 L405.09,388.41 L406.61,388.37 L408.13,388.31 L409.66,388.22 L411.18,388.10 L412.70,387.96 L414.23,387.80 L415.75,387.61 L417.27,387.39 L418.80,387.15 L420.32,386.88 L421.84,386.59 L423.37,386.27 L424.89,385.92 L426.41,385.55 L427.93,385.16 L429.46,384.74 L430.98,384.29 L432.50,383.82 L434.03,383.32 L435.55,382.80 L437.07,382.25 L438.60,381.67 L440.12,381.07 L441.64,380.44 L443.17,379.79 L444.69,379.11 L446.21,378.41 L447.74,377.67 L449.26,376.92 L450.78,376.13 L452.31,375.33 L453.83,374.49 L455.35,373.63 L456.87,372.74 L458.40,371.83 L459.92,370.89 L461.44,369.92 L462.97,368.93 L464.49,367.91 L466.01,366.87 L467.54,365.80 L469.06,364.70 L470.58,363.08 L472.11,361.44 L473.63,359.78 L475.15,358.09 L476.68,356.37 L478.20,354.64 L479.72,352.88 L481.25,351.11 L482.77,349.31 L484.29,347.49 L485.81,345.66 L487.34,343.80 L488.86,341.93 L490.38,340.05 L491.91,338.15 L493.43,336.23 L494.95,334.30 L496.48,332.36 L498.00,330.41 L499.52,328.44 L501.05,326.47 L502.57,324.48 L504.09,322.49 L505.62,320.49 L507.14,318.48 L508.66,316.47 L510.19,314.44 L511.71,312.42 L513.23,310.39 L514.75,308.36 L516.28,306.32 L517.80,304.28 L519.32,302.25 L520.85,300.21 L522.37,298.17 L523.89,296.13 L525.42,294.10 L526.94,292.07 L528.46,290.04 L529.99,288.02 L531.51,286.01 L533.03,284.00 L534.56,281.99 L536.08,280.00 L537.60,278.01 L539.13,276.03 L540.65,274.07 L542.17,272.11 L543.70,270.17 L545.22,268.24 L546.74,266.32 L548.26,264.42 L549.79,262.53 L551.31,260.66 L552.83,258.80 L554.36,256.96 L555.88,255.14 L557.40,253.34 L558.93,251.56 L560.45,249.80 L561.97,248.06 L563.50,246.34 L565.02,244.65 L566.55,242.98 L568.07,241.33 L569.60,239.71 L571.12,238.11 L572.64,236.55 L574.17,235.01 L575.69,233.49 L577.22,232.01 L578.74,230.56 L580.26,229.14 L581.79,227.75 L583.31,226.39 L584.84,225.07 L586.36,223.78 L587.88,222.53 L589.41,221.31 L590.93,220.13 L592.46,218.99 L593.98,217.88 L595.51,216.81 L597.03,215.79 L598.55,214.80 L600.08,213.85 L601.60,212.95 L603.13,212.09 L604.65,211.28 L606.18,210.50 L607.70,209.78 L609.22,209.10 L610.75,208.46 L612.27,207.88 L613.80,207.34 L615.32,206.86 L616.84,206.42 L618.37,206.03 L619.89,205.70 L621.42,205.42 L622.94,205.19 L624.47,205.01 L625.99,204.89 L627.51,204.83 L629.04,204.82 L630.56,204.87 L632.09,204.98 L633.61,205.15 L635.13,205.37 L636.66,205.66 L638.18,206.01 L639.71,206.42 L641.23,206.89 L642.75,207.43 L644.28,208.03 L645.80,208.70 L647.33,209.43 L648.85,210.23 L650.38,211.10 L651.90,212.04 L651.90,391.58 L650.38,389.51 L648.85,387.53 L647.33,385.61 L645.80,383.78 L644.28,382.02 L642.75,380.34 L641.23,378.73 L639.71,377.19 L638.18,375.73 L636.66,374.34 L635.13,373.02 L633.61,371.77 L632.09,370.58 L630.56,369.47 L629.04,368.43 L627.51,367.45 L625.99,366.53 L624.47,365.68 L622.94,364.90 L621.42,364.18 L619.89,363.52 L618.37,362.92 L616.84,362.38 L615.32,361.90 L613.80,361.48 L612.27,361.12 L610.75,360.82 L609.22,360.57 L607.70,360.38 L606.18,360.24 L604.65,360.15 L603.13,360.12 L601.60,360.14 L600.08,360.21 L598.55,360.33 L597.03,360.50 L595.51,360.72 L593.98,360.99 L592.46,361.30 L590.93,361.66 L589.41,362.06 L587.88,362.51 L586.36,363.00 L584.84,363.53 L583.31,364.11 L581.79,364.72 L580.26,365.37 L578.74,366.07 L577.22,366.80 L575.69,367.57 L574.17,368.37 L572.64,369.21 L571.12,370.09 L569.60,370.99 L568.07,371.93 L566.55,372.91 L565.02,373.91 L563.50,374.94 L561.97,376.01 L560.45,377.10 L558.93,378.22 L557.40,379.36 L555.88,380.54 L554.36,381.73 L552.83,382.95 L551.31,384.19 L549.79,385.46 L548.26,386.75 L546.74,388.06 L545.22,389.38 L543.70,390.73 L542.17,392.10 L540.65,393.48 L539.13,394.88 L537.60,396.29 L536.08,397.72 L534.56,399.16 L533.03,400.61 L531.51,402.08 L529.99,403.56 L528.46,405.05 L526.94,406.55 L525.42,408.05 L523.89,409.57 L522.37,411.09 L520.85,412.61 L519.32,414.15 L517.80,415.68 L516.28,417.22 L514.75,418.76 L513.23,420.31 L511.71,421.85 L510.19,423.39 L508.66,424.94 L507.14,426.48 L505.62,428.02 L504.09,429.55 L502.57,431.08 L501.05,432.61 L499.52,434.13 L498.00,435.64 L496.48,437.15 L494.95,438.64 L493.43,440.13 L491.91,441.60 L490.38,443.07 L488.86,444.52 L487.34,445.96 L485.81,447.39 L484.29,448.80 L482.77,450.19 L481.25,451.57 L479.72,452.93 L478.20,454.27 L476.68,455.60 L475.15,456.90 L473.63,458.18 L472.11,459.45 L470.58,460.68 L469.06,461.90 L467.54,462.54 L466.01,463.15 L464.49,463.75 L462.97,464.31 L461.44,464.85 L459.92,465.37 L458.40,465.87 L456.87,466.34 L455.35,466.79 L453.83,467.21 L452.31,467.61 L450.78,467.98 L449.26,468.34 L447.74,468.67 L446.21,468.97 L444.69,469.25 L443.17,469.51 L441.64,469.75 L440.12,469.96 L438.60,470.15 L437.07,470.31 L435.55,470.45 L434.03,470.57 L432.50,470.67 L430.98,470.74 L429.46,470.79 L427.93,470.82 L426.41,470.83 L424.89,470.81 L423.37,470.77 L421.84,470.71 L420.32,470.62 L418.80,470.51 L417.27,470.38 L415.75,470.23 L414.23,470.05 L412.70,469.86 L411.18,469.64 L409.66,469.39 L408.13,469.13 L406.61,468.84 L405.09,468.54 L403.56,468.21 L402.04,467.86 L400.52,467.48 L398.99,467.09 L397.47,466.67 L395.95,466.23 L394.42,465.77 L392.90,465.29 L391.38,464.79 L389.86,464.26 L388.33,463.72 L386.81,463.15 L385.29,462.56 L383.76,461.95 L382.24,461.32 L380.72,460.67 L379.19,459.99 L377.67,459.30 L376.15,458.13 L374.62,456.94 L373.10,455.73 L371.58,454.50 L370.05,453.25 L368.53,451.99 L367.01,450.71 L365.48,449.41 L363.96,448.10 L362.44,446.78 L360.92,445.45 L359.39,444.10 L357.87,442.74 L356.35,441.37 L354.82,439.99 L353.30,438.61 L351.78,437.21 L350.25,435.81 L348.73,434.40 L347.21,432.99 L345.68,431.57 L344.16,430.15 L342.64,428.72 L341.11,427.30 L339.59,425.87 L338.07,424.44 L336.54,423.01 L335.02,421.59 L333.50,420.16 L331.98,418.74 L330.45,417.32 L328.93,415.90 L327.41,414.49 L325.88,413.09 L324.36,411.70 L322.84,410.31 L321.31,408.93 L319.79,407.56 L318.27,406.19 L316.74,404.84 L315.22,403.51 L313.70,402.18 L312.17,400.87 L310.65,399.57 L309.13,398.29 L307.60,397.02 L306.08,395.77 L304.56,394.54 L303.03,393.32 L301.51,392.13 L299.99,390.95 L298.47,389.80 L296.94,388.66 L295.42,387.55 L293.90,386.46 L292.37,385.40 L290.85,384.36 L289.33,383.35 L287.80,382.36 L286.28,381.40 L284.76,381.20 L283.23,381.04 L281.71,380.90 L280.19,380.78 L278.66,380.70 L277.14,380.63 L275.62,380.60 L274.09,380.59 L272.57,380.60 L271.05,380.64 L269.53,380.70 L268.00,380.79 L266.48,380.90 L264.96,381.03 L263.43,381.19 L261.91,381.36 L260.39,381.56 L258.86,381.78 L257.34,382.02 L255.82,382.28 L254.29,382.56 L252.77,382.86 L251.25,383.18 L249.72,383.52 L248.20,383.87 L246.68,384.24 L245.15,384.63 L243.63,385.04 L242.11,385.47 L240.58,385.91 L239.06,386.36 L237.54,386.83 L236.02,387.32 L234.49,387.82 L232.97,388.34 L231.45,388.86 L229.92,389.41 L228.40,389.96 L226.88,390.53 L225.35,391.11 L223.83,391.70 L222.31,392.30 L220.78,392.92 L219.26,393.54 L217.74,394.17 L216.21,394.82 L214.69,395.47 L213.17,396.13 L211.64,396.80 L210.12,397.48 L208.60,398.16 L207.08,398.85 L205.55,399.55 L204.03,400.26 L202.51,400.97 L200.98,401.69 L199.46,402.41 L197.94,403.13 L196.41,403.87 L194.89,404.60 L193.37,405.34 L191.84,406.08 L190.32,406.82 L188.80,407.57 L187.27,408.32 L185.75,409.07 L184.23,409.82 L182.70,410.57 L181.18,411.32 L179.66,412.07 L178.14,412.82 L176.61,413.57 L175.09,414.31 L173.57,415.06 L172.04,415.80 L170.52,416.54 L169.00,417.28 L167.47,418.01 L165.95,418.74 L164.43,419.47 L162.90,420.19 L161.38,420.91 L159.86,421.62 L158.33,422.32 L156.81,423.02 L155.29,423.71 L153.76,424.39 L152.24,425.07 L150.72,425.73 L149.19,426.39 L147.67,427.04 L146.15,427.69 L144.63,428.32 L143.10,428.94 L141.58,429.55 L140.06,430.15 L138.53,430.74 L137.01,431.31 L135.49,431.88 L133.96,432.43 L132.44,432.97 L130.92,433.50 L129.39,434.01 L127.87,434.51 L126.35,434.99 L124.82,435.46 L123.30,435.91 L121.78,436.35 L120.25,436.77 L118.73,437.17 L117.21,437.56 L115.69,437.93 L114.16,438.28 L112.64,438.61 L111.12,438.92 L109.59,439.22 L108.07,439.49 L106.55,439.75 L105.02,439.99 L103.50,440.20Z" fill="#ff0000" fill-opacity="0.3" stroke="none"/><path d="M101.70,440.20 L103.22,439.07 L104.75,437.96 L106.27,436.87 L107.79,435.81 L109.32,434.76 L110.84,433.74 L112.36,432.74 L113.89,431.76 L115.41,430.80 L116.93,429.87 L118.45,428.95 L119.98,428.06 L121.50,427.18 L123.02,426.33 L124.55,425.49 L126.07,424.68 L127.59,423.89 L129.12,423.11 L130.64,422.36 L132.16,421.62 L133.69,420.91 L135.21,420.21 L136.73,419.53 L138.26,418.88 L139.78,418.24 L141.30,417.62 L142.83,417.01 L144.35,416.43 L145.87,415.86 L147.40,415.31 L148.92,414.78 L150.44,414.27 L151.96,413.77 L153.49,413.29 L155.01,412.83 L156.53,412.39 L158.06,411.96 L159.58,411.55 L161.10,411.15 L162.63,410.78 L164.15,410.41 L165.67,410.07 L167.20,409.74 L168.72,409.42 L170.24,409.12 L171.77,408.84 L173.29,408.57 L174.81,408.32 L176.34,408.08 L177.86,407.86 L179.38,407.65 L180.90,407.45 L182.43,407.27 L183.95,407.11 L185.47,406.96 L187.00,406.82 L188.52,406.69 L190.04,406.58 L191.57,406.48 L193.09,406.40 L194.61,406.33 L196.14,406.27 L197.66,406.22 L199.18,406.19 L200.71,406.17 L202.23,406.16 L203.75,406.16 L205.28,406.18 L206.80,406.21 L208.32,406.24 L209.84,406.29 L211.37,406.36 L212.89,406.43 L214.41,406.51 L215.94,406.61 L217.46,406.71 L218.98,406.83 L220.51,406.95 L222.03,407.09 L223.55,407.23 L225.08,407.39 L226.60,407.56 L228.12,407.73 L229.65,407.92 L231.17,408.11 L232.69,408.31 L234.22,408.52 L235.74,408.75 L237.26,408.97 L238.79,409.21 L240.31,409.46 L241.83,409.71 L243.35,409.97 L244.88,410.25 L246.40,410.52 L247.92,410.81 L249.45,411.10 L250.97,411.40 L252.49,411.71 L254.02,412.02 L255.54,412.34 L257.06,412.67 L258.59,413.00 L260.11,413.34 L261.63,413.69 L263.16,414.04 L264.68,414.40 L266.20,414.76 L267.73,415.13 L269.25,415.50 L270.77,415.88 L272.29,416.27 L273.82,416.65 L275.34,417.05 L276.86,417.45 L278.39,417.85 L279.91,418.26 L281.43,418.67 L282.96,419.08 L284.48,419.50 L286.00,420.01 L287.53,420.52 L289.05,421.03 L290.57,421.54 L292.10,422.06 L293.62,422.58 L295.14,423.10 L296.67,423.63 L298.19,424.15 L299.71,424.68 L301.23,425.20 L302.76,425.73 L304.28,426.26 L305.80,426.78 L307.33,427.31 L308.85,427.83 L310.37,428.35 L311.90,428.88 L313.42,429.40 L314.94,429.91 L316.47,430.43 L317.99,430.94 L319.51,431.45 L321.04,431.96 L322.56,432.46 L324.08,432.96 L325.61,433.46 L327.13,433.95 L328.65,434.43 L330.18,434.91 L331.70,435.39 L333.22,435.86 L334.74,436.32 L336.27,436.78 L337.79,437.23 L339.31,437.67 L340.84,438.11 L342.36,438.54 L343.88,438.96 L345.41,439.38 L346.93,439.78 L348.45,440.18 L349.98,440.57 L351.50,440.94 L353.02,441.31 L354.55,441.67 L356.07,442.02 L357.59,442.36 L359.12,442.69 L360.64,443.00 L362.16,443.31 L363.68,443.60 L365.21,443.89 L366.73,444.15 L368.25,444.41 L369.78,444.66 L371.30,444.89 L372.82,445.11 L374.35,445.31 L375.87,445.50 L377.39,445.39 L378.92,445.26 L380.44,445.12 L381.96,444.96 L383.49,444.79 L385.01,444.61 L386.53,444.42 L388.06,444.21 L389.58,443.99 L391.10,443.75 L392.62,443.51 L394.15,443.25 L395.67,442.98 L397.19,442.69 L398.72,442.40 L400.24,442.09 L401.76,441.78 L403.29,441.45 L404.81,441.11 L406.33,440.76 L407.86,440.40 L409.38,440.02 L410.90,439.64 L412.43,439.25 L413.95,438.85 L415.47,438.44 L417.00,438.02 L418.52,437.59 L420.04,437.15 L421.56,436.70 L423.09,436.24 L424.61,435.78 L426.13,435.30 L427.66,434.82 L429.18,434.33 L430.70,433.83 L432.23,433.33 L433.75,432.81 L435.27,432.29 L436.80,431.77 L438.32,431.23 L439.84,430.69 L441.37,430.14 L442.89,429.59 L444.41,429.03 L445.94,428.46 L447.46,427.89 L448.98,427.31 L450.51,426.73 L452.03,426.14 L453.55,425.54 L455.07,424.94 L456.60,424.34 L458.12,423.73 L459.64,423.12 L461.17,422.50 L462.69,421.88 L464.21,421.26 L465.74,420.63 L467.26,420.00 L468.78,419.28 L470.31,418.55 L471.83,417.82 L473.35,417.09 L474.88,416.35 L476.40,415.62 L477.92,414.88 L479.45,414.14 L480.97,413.41 L482.49,412.67 L484.01,411.93 L485.54,411.19 L487.06,410.45 L488.58,409.72 L490.11,408.98 L491.63,408.25 L493.15,407.52 L494.68,406.79 L496.20,406.07 L497.72,405.34 L499.25,404.63 L500.77,403.91 L502.29,403.20 L503.82,402.49 L505.34,401.79 L506.86,401.09 L508.39,400.40 L509.91,399.72 L511.43,399.04 L512.96,398.36 L514.48,397.70 L516.00,397.04 L517.52,396.38 L519.05,395.74 L520.57,395.10 L522.09,394.48 L523.62,393.86 L525.14,393.25 L526.66,392.65 L528.19,392.06 L529.71,391.47 L531.23,390.90 L532.76,390.34 L534.28,389.80 L535.80,389.26 L537.33,388.73 L538.85,388.22 L540.37,387.72 L541.90,387.23 L543.42,386.76 L544.94,386.30 L546.46,385.85 L547.99,385.41 L549.51,384.99 L551.03,384.59 L552.56,384.20 L554.08,383.83 L555.60,383.47 L557.13,383.13 L558.65,382.80 L560.17,382.49 L561.70,382.20 L563.22,381.92 L564.75,381.67 L566.27,381.43 L567.79,381.21 L569.32,381.01 L570.84,380.82 L572.37,380.66 L573.89,380.52 L575.42,380.39 L576.94,380.29 L578.46,380.21 L579.99,380.15 L581.51,380.11 L583.04,380.09 L584.56,380.10 L586.09,380.12 L587.61,380.17 L589.13,380.25 L590.66,380.34 L592.18,380.46 L593.71,380.61 L595.23,380.77 L596.75,380.97 L598.28,381.19 L599.80,381.43 L601.33,381.70 L602.85,382.00 L604.38,382.32 L605.90,382.67 L607.42,383.04 L608.95,383.45 L610.47,383.88 L612.00,384.34 L613.52,384.83 L615.04,385.34 L616.57,385.89 L618.09,386.47 L619.62,387.07 L621.14,387.71 L622.66,388.37 L624.19,389.07 L625.71,389.80 L627.24,390.56 L628.76,391.35 L630.29,392.17 L631.81,393.03 L633.33,393.92 L634.86,394.84 L636.38,395.79 L637.91,396.78 L639.43,397.80 L640.96,398.86 L642.48,399.95 L644.00,401.08 L645.53,402.25 L647.05,403.44 L648.58,404.68 L650.10,405.95" stroke="#0a0aff" stroke-width="1.7" fill="none" stroke-dasharray="4.8,1.85"/><path d="M103.50,440.20 L105.02,439.16 L106.55,438.12 L108.07,437.07 L109.59,436.01 L111.12,434.95 L112.64,433.88 L114.16,432.80 L115.69,431.72 L117.21,430.64 L118.73,429.55 L120.25,428.46 L121.78,427.36 L123.30,426.26 L124.82,425.15 L126.35,424.04 L127.87,422.93 L129.39,421.82 L130.92,420.70 L132.44,419.59 L133.96,418.47 L135.49,417.35 L137.01,416.23 L138.53,415.10 L140.06,413.98 L141.58,412.86 L143.10,411.73 L144.63,410.61 L146.15,409.49 L147.67,408.37 L149.19,407.25 L150.72,406.13 L152.24,405.02 L153.76,403.90 L155.29,402.79 L156.81,401.68 L158.33,400.58 L159.86,399.47 L161.38,398.37 L162.90,397.28 L164.43,396.19 L165.95,395.10 L167.47,394.02 L169.00,392.94 L170.52,391.87 L172.04,390.81 L173.57,389.75 L175.09,388.69 L176.61,387.65 L178.14,386.61 L179.66,385.57 L181.18,384.55 L182.70,383.53 L184.23,382.52 L185.75,381.52 L187.27,380.53 L188.80,379.54 L190.32,378.57 L191.84,377.60 L193.37,376.65 L194.89,375.70 L196.41,374.76 L197.94,373.84 L199.46,372.93 L200.98,372.02 L202.51,371.13 L204.03,370.25 L205.55,369.39 L207.08,368.53 L208.60,367.69 L210.12,366.86 L211.64,366.04 L213.17,365.24 L214.69,364.45 L216.21,363.68 L217.74,362.92 L219.26,362.17 L220.78,361.44 L222.31,360.73 L223.83,360.03 L225.35,359.35 L226.88,358.68 L228.40,358.03 L229.92,357.39 L231.45,356.78 L232.97,356.18 L234.49,355.60 L236.02,355.03 L237.54,354.49 L239.06,353.96 L240.58,353.45 L242.11,352.96 L243.63,352.49 L245.15,352.04 L246.68,351.61 L248.20,351.20 L249.72,350.81 L251.25,350.44 L252.77,350.10 L254.29,349.77 L255.82,349.47 L257.34,349.18 L258.86,348.92 L260.39,348.69 L261.91,348.47 L263.43,348.28 L264.96,348.11 L266.48,347.97 L268.00,347.85 L269.53,347.76 L271.05,347.68 L272.57,347.64 L274.09,347.62 L275.62,347.62 L277.14,347.65 L278.66,347.71 L280.19,347.80 L281.71,347.91 L283.23,348.04 L284.76,348.21 L286.28,348.40 L287.80,349.30 L289.33,350.23 L290.85,351.18 L292.37,352.16 L293.90,353.17 L295.42,354.19 L296.94,355.25 L298.47,356.32 L299.99,357.41 L301.51,358.53 L303.03,359.66 L304.56,360.81 L306.08,361.98 L307.60,363.17 L309.13,364.37 L310.65,365.59 L312.17,366.82 L313.70,368.07 L315.22,369.33 L316.74,370.60 L318.27,371.88 L319.79,373.17 L321.31,374.47 L322.84,375.78 L324.36,377.10 L325.88,378.43 L327.41,379.76 L328.93,381.09 L330.45,382.43 L331.98,383.78 L333.50,385.12 L335.02,386.47 L336.54,387.82 L338.07,389.17 L339.59,390.51 L341.11,391.86 L342.64,393.20 L344.16,394.54 L345.68,395.88 L347.21,397.21 L348.73,398.54 L350.25,399.86 L351.78,401.17 L353.30,402.47 L354.82,403.77 L356.35,405.05 L357.87,406.32 L359.39,407.58 L360.92,408.83 L362.44,410.07 L363.96,411.29 L365.48,412.50 L367.01,413.69 L368.53,414.86 L370.05,416.01 L371.58,417.15 L373.10,418.27 L374.62,419.37 L376.15,420.44 L377.67,421.50 L379.19,422.06 L380.72,422.59 L382.24,423.10 L383.76,423.59 L385.29,424.06 L386.81,424.50 L388.33,424.92 L389.86,425.31 L391.38,425.69 L392.90,426.04 L394.42,426.37 L395.95,426.67 L397.47,426.95 L398.99,427.21 L400.52,427.44 L402.04,427.65 L403.56,427.84 L405.09,428.00 L406.61,428.15 L408.13,428.26 L409.66,428.35 L411.18,428.42 L412.70,428.47 L414.23,428.49 L415.75,428.49 L417.27,428.46 L418.80,428.41 L420.32,428.34 L421.84,428.24 L423.37,428.12 L424.89,427.97 L426.41,427.80 L427.93,427.61 L429.46,427.39 L430.98,427.14 L432.50,426.88 L434.03,426.58 L435.55,426.27 L437.07,425.93 L438.60,425.56 L440.12,425.17 L441.64,424.75 L443.17,424.31 L444.69,423.85 L446.21,423.36 L447.74,422.85 L449.26,422.31 L450.78,421.74 L452.31,421.15 L453.83,420.54 L455.35,419.90 L456.87,419.23 L458.40,418.54 L459.92,417.83 L461.44,417.09 L462.97,416.32 L464.49,415.53 L466.01,414.71 L467.54,413.87 L469.06,413.00 L470.58,411.57 L472.11,410.12 L473.63,408.65 L475.15,407.15 L476.68,405.63 L478.20,404.09 L479.72,402.53 L481.25,400.95 L482.77,399.35 L484.29,397.73 L485.81,396.09 L487.34,394.44 L488.86,392.77 L490.38,391.09 L491.91,389.39 L493.43,387.68 L494.95,385.96 L496.48,384.23 L498.00,382.49 L499.52,380.73 L501.05,378.97 L502.57,377.20 L504.09,375.42 L505.62,373.64 L507.14,371.85 L508.66,370.05 L510.19,368.25 L511.71,366.45 L513.23,364.65 L514.75,362.84 L516.28,361.04 L517.80,359.23 L519.32,357.43 L520.85,355.63 L522.37,353.83 L523.89,352.03 L525.42,350.24 L526.94,348.45 L528.46,346.67 L529.99,344.90 L531.51,343.14 L533.03,341.38 L534.56,339.63 L536.08,337.90 L537.60,336.17 L539.13,334.46 L540.65,332.76 L542.17,331.07 L543.70,329.40 L545.22,327.74 L546.74,326.10 L548.26,324.48 L549.79,322.87 L551.31,321.28 L552.83,319.72 L554.36,318.17 L555.88,316.64 L557.40,315.14 L558.93,313.66 L560.45,312.20 L561.97,310.77 L563.50,309.36 L565.02,307.98 L566.55,306.62 L568.07,305.29 L569.60,304.00 L571.12,302.73 L572.64,301.49 L574.17,300.28 L575.69,299.11 L577.22,297.97 L578.74,296.86 L580.26,295.78 L581.79,294.75 L583.31,293.74 L584.84,292.78 L586.36,291.85 L587.88,290.97 L589.41,290.12 L590.93,289.31 L592.46,288.54 L593.98,287.82 L595.51,287.14 L597.03,286.50 L598.55,285.91 L600.08,285.36 L601.60,284.86 L603.13,284.41 L604.65,284.01 L606.18,283.65 L607.70,283.34 L609.22,283.09 L610.75,282.88 L612.27,282.73 L613.80,282.63 L615.32,282.59 L616.84,282.60 L618.37,282.66 L619.89,282.78 L621.42,282.96 L622.94,283.20 L624.47,283.50 L625.99,283.85 L627.51,284.27 L629.04,284.75 L630.56,285.29 L632.09,285.89 L633.61,286.56 L635.13,287.29 L636.66,288.09 L638.18,288.95 L639.71,289.88 L641.23,290.88 L642.75,291.95 L644.28,293.09 L645.80,294.30 L647.33,295.58 L648.85,296.93 L650.38,298.36 L651.90,299.86" stroke="#ff0000" stroke-width="1.5" fill="none"/><path d="M103.50,440.20 L105.02,439.18 L106.55,438.15 L108.07,437.12 L109.59,436.08 L111.12,435.05 L112.64,434.01 L114.16,432.97 L115.69,431.93 L117.21,430.89 L118.73,429.85 L120.25,428.80 L121.78,427.76 L123.30,426.71 L124.82,425.67 L126.35,424.62 L127.87,423.58 L129.39,422.53 L130.92,421.49 L132.44,420.45 L133.96,419.40 L135.49,418.36 L137.01,417.32 L138.53,416.29 L140.06,415.25 L141.58,414.22 L143.10,413.19 L144.63,412.16 L146.15,411.14 L147.67,410.12 L149.19,409.10 L150.72,408.09 L152.24,407.08 L153.76,406.07 L155.29,405.07 L156.81,404.07 L158.33,403.08 L159.86,402.09 L161.38,401.11 L162.90,400.13 L164.43,399.16 L165.95,398.20 L167.47,397.24 L169.00,396.29 L170.52,395.34 L172.04,394.40 L173.57,393.47 L175.09,392.55 L176.61,391.63 L178.14,390.72 L179.66,389.82 L181.18,388.93 L182.70,388.04 L184.23,387.17 L185.75,386.30 L187.27,385.44 L188.80,384.59 L190.32,383.76 L191.84,382.93 L193.37,382.11 L194.89,381.30 L196.41,380.50 L197.94,379.71 L199.46,378.94 L200.98,378.17 L202.51,377.42 L204.03,376.68 L205.55,375.95 L207.08,375.23 L208.60,374.52 L210.12,373.83 L211.64,373.15 L213.17,372.48 L214.69,371.83 L216.21,371.19 L217.74,370.56 L219.26,369.95 L220.78,369.35 L222.31,368.76 L223.83,368.19 L225.35,367.64 L226.88,367.10 L228.40,366.57 L229.92,366.06 L231.45,365.57 L232.97,365.09 L234.49,364.63 L236.02,364.18 L237.54,363.76 L239.06,363.34 L240.58,362.95 L242.11,362.57 L243.63,362.21 L245.15,361.87 L246.68,361.55 L248.20,361.24 L249.72,360.96 L251.25,360.69 L252.77,360.44 L254.29,360.21 L255.82,360.00 L257.34,359.81 L258.86,359.63 L260.39,359.48 L261.91,359.35 L263.43,359.24 L264.96,359.15 L266.48,359.08 L268.00,359.03 L269.53,359.01 L271.05,359.00 L272.57,359.02 L274.09,359.06 L275.62,359.12 L277.14,359.21 L278.66,359.31 L280.19,359.44 L281.71,359.60 L283.23,359.77 L284.76,359.98 L286.28,360.20 L287.80,361.04 L289.33,361.91 L290.85,362.80 L292.37,363.71 L293.90,364.64 L295.42,365.60 L296.94,366.57 L298.47,367.56 L299.99,368.57 L301.51,369.60 L303.03,370.64 L304.56,371.70 L306.08,372.77 L307.60,373.86 L309.13,374.96 L310.65,376.08 L312.17,377.20 L313.70,378.34 L315.22,379.49 L316.74,380.65 L318.27,381.81 L319.79,382.99 L321.31,384.17 L322.84,385.36 L324.36,386.55 L325.88,387.75 L327.41,388.96 L328.93,390.17 L330.45,391.38 L331.98,392.59 L333.50,393.80 L335.02,395.01 L336.54,396.23 L338.07,397.44 L339.59,398.65 L341.11,399.86 L342.64,401.06 L344.16,402.27 L345.68,403.46 L347.21,404.65 L348.73,405.84 L350.25,407.01 L351.78,408.18 L353.30,409.34 L354.82,410.49 L356.35,411.63 L357.87,412.76 L359.39,413.88 L360.92,414.99 L362.44,416.08 L363.96,417.16 L365.48,418.22 L367.01,419.27 L368.53,420.30 L370.05,421.31 L371.58,422.31 L373.10,423.29 L374.62,424.24 L376.15,425.18 L377.67,426.10 L379.19,426.54 L380.72,426.95 L382.24,427.34 L383.76,427.71 L385.29,428.06 L386.81,428.39 L388.33,428.70 L389.86,428.98 L391.38,429.24 L392.90,429.48 L394.42,429.70 L395.95,429.90 L397.47,430.08 L398.99,430.23 L400.52,430.36 L402.04,430.48 L403.56,430.56 L405.09,430.63 L406.61,430.68 L408.13,430.70 L409.66,430.71 L411.18,430.69 L412.70,430.65 L414.23,430.59 L415.75,430.50 L417.27,430.40 L418.80,430.27 L420.32,430.12 L421.84,429.95 L423.37,429.76 L424.89,429.55 L426.41,429.32 L427.93,429.06 L429.46,428.78 L430.98,428.48 L432.50,428.16 L434.03,427.82 L435.55,427.46 L437.07,427.07 L438.60,426.66 L440.12,426.23 L441.64,425.78 L443.17,425.31 L444.69,424.82 L446.21,424.30 L447.74,423.77 L449.26,423.21 L450.78,422.63 L452.31,422.03 L453.83,421.41 L455.35,420.76 L456.87,420.10 L458.40,419.41 L459.92,418.70 L461.44,417.97 L462.97,417.22 L464.49,416.45 L466.01,415.65 L467.54,414.84 L469.06,414.00 L470.58,412.70 L472.11,411.38 L473.63,410.04 L475.15,408.68 L476.68,407.30 L478.20,405.90 L479.72,404.49 L481.25,403.06 L482.77,401.61 L484.29,400.15 L485.81,398.68 L487.34,397.19 L488.86,395.69 L490.38,394.17 L491.91,392.65 L493.43,391.12 L494.95,389.57 L496.48,388.02 L498.00,386.46 L499.52,384.89 L501.05,383.31 L502.57,381.73 L504.09,380.15 L505.62,378.56 L507.14,376.96 L508.66,375.36 L510.19,373.76 L511.71,372.16 L513.23,370.56 L514.75,368.96 L516.28,367.35 L517.80,365.75 L519.32,364.16 L520.85,362.56 L522.37,360.97 L523.89,359.38 L525.42,357.80 L526.94,356.22 L528.46,354.65 L529.99,353.09 L531.51,351.53 L533.03,349.99 L534.56,348.45 L536.08,346.92 L537.60,345.41 L539.13,343.91 L540.65,342.41 L542.17,340.94 L543.70,339.47 L545.22,338.02 L546.74,336.59 L548.26,335.17 L549.79,333.77 L551.31,332.39 L552.83,331.02 L554.36,329.68 L555.88,328.35 L557.40,327.05 L558.93,325.76 L560.45,324.50 L561.97,323.26 L563.50,322.04 L565.02,320.85 L566.55,319.69 L568.07,318.54 L569.60,317.43 L571.12,316.34 L572.64,315.28 L574.17,314.25 L575.69,313.25 L577.22,312.28 L578.74,311.34 L580.26,310.43 L581.79,309.56 L583.31,308.71 L584.84,307.91 L586.36,307.13 L587.88,306.39 L589.41,305.69 L590.93,305.03 L592.46,304.40 L593.98,303.81 L595.51,303.26 L597.03,302.75 L598.55,302.28 L600.08,301.85 L601.60,301.46 L603.13,301.12 L604.65,300.82 L606.18,300.56 L607.70,300.35 L609.22,300.19 L610.75,300.07 L612.27,300.00 L613.80,299.98 L615.32,300.00 L616.84,300.08 L618.37,300.20 L619.89,300.38 L621.42,300.61 L622.94,300.89 L624.47,301.22 L625.99,301.61 L627.51,302.05 L629.04,302.55 L630.56,303.10 L632.09,303.71 L633.61,304.38 L635.13,305.10 L636.66,305.89 L638.18,306.74 L639.71,307.64 L641.23,308.61 L642.75,309.64 L644.28,310.73 L645.80,311.88 L647.33,313.10 L648.85,314.39 L650.38,315.74 L651.90,317.16" stroke="#00a000" stroke-width="1.6" fill="none" stroke-dasharray="2.2,1.9"/></g><path d="M102.75,475.50v-3.60M120.20,475.50v-2.10M137.66,475.50v-2.10M155.11,475.50v-2.10M172.57,475.50v-2.10M190.02,475.50v-3.60M207.47,475.50v-2.10M224.93,475.50v-2.10M242.38,475.50v-2.10M259.84,475.50v-2.10M277.29,475.50v-3.60M294.74,475.50v-2.10M312.20,475.50v-2.10M329.65,475.50v-2.10M347.11,475.50v-2.10M364.56,475.50v-3.60M382.01,475.50v-2.10M399.47,475.50v-2.10M416.92,475.50v-2.10M434.38,475.50v-2.10M451.83,475.50v-3.60M469.28,475.50v-2.10M486.74,475.50v-2.10M504.19,475.50v-2.10M521.65,475.50v-2.10M539.10,475.50v-3.60M556.55,475.50v-2.10M574.01,475.50v-2.10M591.46,475.50v-2.10M608.92,475.50v-2.10M626.37,475.50v-3.60M643.82,475.50v-2.10M661.28,475.50v-2.10" stroke="#858585" stroke-width="0.85" fill="none"/><path d="M91.50,464.47h2.20M91.50,452.33h2.20M91.50,440.20h3.80M91.50,428.07h2.20M91.50,415.93h2.20M91.50,403.80h2.20M91.50,391.66h2.20M91.50,379.53h3.80M91.50,367.40h2.20M91.50,355.26h2.20M91.50,343.13h2.20M91.50,330.99h2.20M91.50,318.86h3.80M91.50,306.73h2.20M91.50,294.59h2.20M91.50,282.46h2.20M91.50,270.32h2.20M91.50,258.19h3.80" stroke="#858585" stroke-width="0.85" fill="none"/><text x="88.6" y="240.70" text-anchor="end" class="t">0.00</text><text x="88.6" y="187.60" text-anchor="end" class="t">0.02</text><text x="88.6" y="134.50" text-anchor="end" class="t">0.04</text><text x="88.6" y="81.40" text-anchor="end" class="t">0.06</text><text x="88.6" y="28.30" text-anchor="end" class="t">0.08</text><text x="88.6" y="446.50" text-anchor="end" class="t">0.000</text><text x="88.6" y="385.83" text-anchor="end" class="t">0.005</text><text x="88.6" y="325.16" text-anchor="end" class="t">0.010</text><text x="88.6" y="264.49" text-anchor="end" class="t">0.015</text><text x="102.75" y="493.3" text-anchor="middle" class="t">0</text><text x="190.02" y="493.3" text-anchor="middle" class="t">1</text><text x="277.29" y="493.3" text-anchor="middle" class="t">2</text><text x="364.56" y="493.3" text-anchor="middle" class="t">3</text><text x="451.83" y="493.3" text-anchor="middle" class="t">4</text><text x="539.10" y="493.3" text-anchor="middle" class="t">5</text><text x="626.37" y="493.3" text-anchor="middle" class="t">6</text><text x="364.8" y="516.7" class="t">zP<tspan font-style="italic" font-size="11.2" dy="3.5">z</tspan></text><text transform="translate(45.70,125.00) rotate(-90)" text-anchor="middle" class="t">Im[<tspan font-style="italic">h</tspan><tspan font-style="italic" font-size="11.2" dy="-6.6">R</tspan><tspan font-style="italic" font-size="11.2" dy="11.8" dx="-8.1">s</tspan><tspan dy="-5.2" dx="2.6">(zP</tspan><tspan font-style="italic" font-size="11.2" dy="3.5">z</tspan><tspan dy="-3.5" dx="0.6">,</tspan><tspan font-style="italic">n</tspan><tspan font-style="italic" font-size="11.2" dy="3.5">z</tspan><tspan dy="-3.5" dx="0.6">=4)]</tspan></text><text transform="translate(36.90,361.00) rotate(-90)" text-anchor="middle" class="t">Im[<tspan font-style="italic">h</tspan><tspan font-style="italic" font-size="11.2" dy="-6.6">R</tspan><tspan font-style="italic" font-size="11.2" dy="11.8" dx="-8.1">c</tspan><tspan dy="-5.2" dx="2.6">(zP</tspan><tspan font-style="italic" font-size="11.2" dy="3.5">z</tspan><tspan dy="-3.5" dx="0.6">,</tspan><tspan font-style="italic">n</tspan><tspan font-style="italic" font-size="11.2" dy="3.5">z</tspan><tspan dy="-3.5" dx="0.6">=4)]</tspan></text><path d="M151,26.20L155.15,33.30L146.85,33.30Z" stroke="#0000ff" stroke-width="1.1" fill="none"/><rect x="147.40" y="51.10" width="7.30" height="7.30" stroke="#00aa00" stroke-width="1.05" fill="none"/><path d="M142.5,82.30H159" stroke="#ff0000" stroke-width="1.5"/><text x="166.10" y="34.10" class="t"><tspan font-style="italic">M</tspan><tspan font-style="italic" font-size="11.2" dy="3.9">π</tspan><tspan dy="-3.9">≈690 MeV</tspan></text><text x="166.10" y="58.70" class="t"><tspan font-style="italic">M</tspan><tspan font-style="italic" font-size="11.2" dy="3.9">π</tspan><tspan dy="-3.9">≈310 MeV</tspan></text><text x="166.10" y="87.00" class="t"><tspan font-style="italic">M</tspan><tspan font-style="italic" font-size="11.2" dy="3.9">π</tspan></text><path d="M188.9,82.30H200.6M197,78.00Q198.5,81.10 200.9,82.30Q198.5,83.50 197,86.60" stroke="#000" stroke-width="1.15" fill="none" stroke-linejoin="miter"/><text x="268.4" y="87.00" text-anchor="end" class="t">135 MeV</text><path d="M151,262.40L155.15,269.50L146.85,269.50Z" stroke="#0000ff" stroke-width="1.1" fill="none"/><rect x="147.40" y="287.30" width="7.30" height="7.30" stroke="#00aa00" stroke-width="1.05" fill="none"/><path d="M142.5,318.50H159" stroke="#ff0000" stroke-width="1.5"/><text x="166.10" y="270.30" class="t"><tspan font-style="italic">M</tspan><tspan font-style="italic" font-size="11.2" dy="3.9">π</tspan><tspan dy="-3.9">≈690 MeV</tspan></text><text x="166.10" y="294.90" class="t"><tspan font-style="italic">M</tspan><tspan font-style="italic" font-size="11.2" dy="3.9">π</tspan><tspan dy="-3.9">≈310 MeV</tspan></text><text x="166.10" y="323.20" class="t"><tspan font-style="italic">M</tspan><tspan font-style="italic" font-size="11.2" dy="3.9">π</tspan></text><path d="M188.9,318.50H200.6M197,314.20Q198.5,317.30 200.9,318.50Q198.5,319.70 197,322.80" stroke="#000" stroke-width="1.15" fill="none" stroke-linejoin="miter"/><text x="268.4" y="323.20" text-anchor="end" class="t">135 MeV</text></svg></body></html>
